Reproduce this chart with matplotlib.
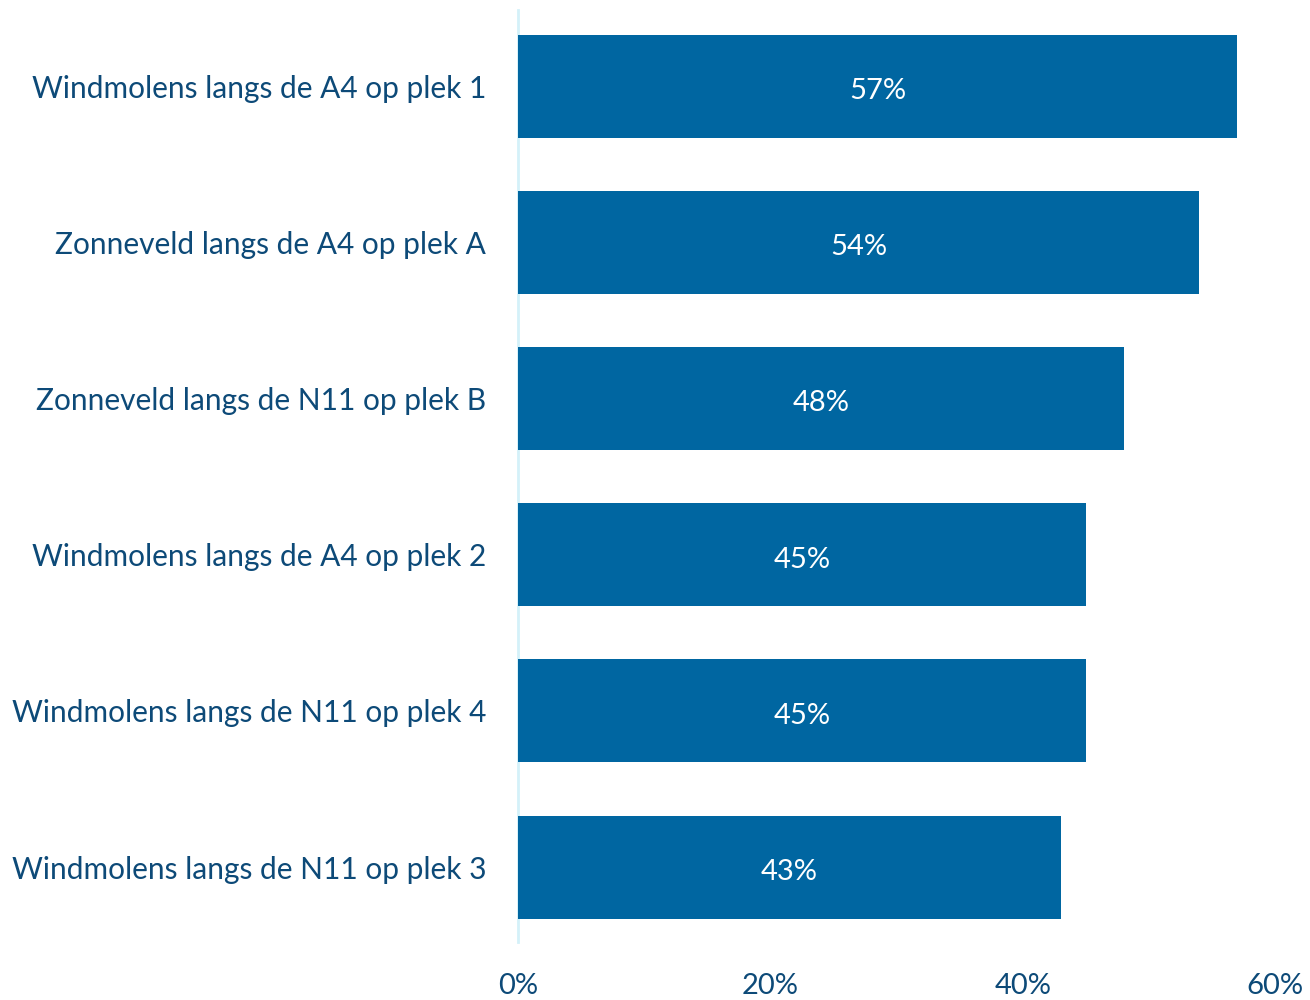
import matplotlib
matplotlib.use("Agg")
import matplotlib.pyplot as plt

categories = [
    "Windmolens langs de A4 op plek 1",
    "Zonneveld langs de A4 op plek A",
    "Zonneveld langs de N11 op plek B",
    "Windmolens langs de A4 op plek 2",
    "Windmolens langs de N11 op plek 4",
    "Windmolens langs de N11 op plek 3",
]
values = [57, 54, 48, 45, 45, 43]
xticks = [0, 20, 40, 60]
xtick_labels = ["0%", "20%", "40%", "60%"]

BAR = "#0066a1"
TXT = "#0d4a78"
FONT = ["Lato", "DejaVu Sans"]
FS = 21.5

fig = plt.figure(figsize=(13.1, 10), dpi=100)
ax = fig.add_axes([0.3954, 0.058, 0.5779, 0.932])
pos = list(range(len(categories)))
ax.barh(pos, values, height=0.66, color=BAR, zorder=2)
for p, v in zip(pos, values):
    ax.text(v / 2, p + 0.03, f"{v}%", ha="center", va="center", color="white",
            fontsize=21, family=FONT, zorder=3)
ax.set_xlim(0, 60)
ax.set_ylim(5.48, -0.49)
ax.set_yticks(pos)
ax.set_yticklabels(categories, fontsize=FS, color=TXT, family=FONT)
ax.set_xticks(xticks)
ax.set_xticklabels(xtick_labels, fontsize=21, color=TXT, family=FONT)
ax.tick_params(axis="y", length=0, pad=23)
ax.tick_params(axis="x", length=0, pad=22)
for s in ["top", "right", "bottom"]:
    ax.spines[s].set_visible(False)
ax.spines["left"].set_color("#d4f1f9")
ax.spines["left"].set_linewidth(2)
ax.spines["left"].set_zorder(1)
fig.savefig("out.png", dpi=100)
